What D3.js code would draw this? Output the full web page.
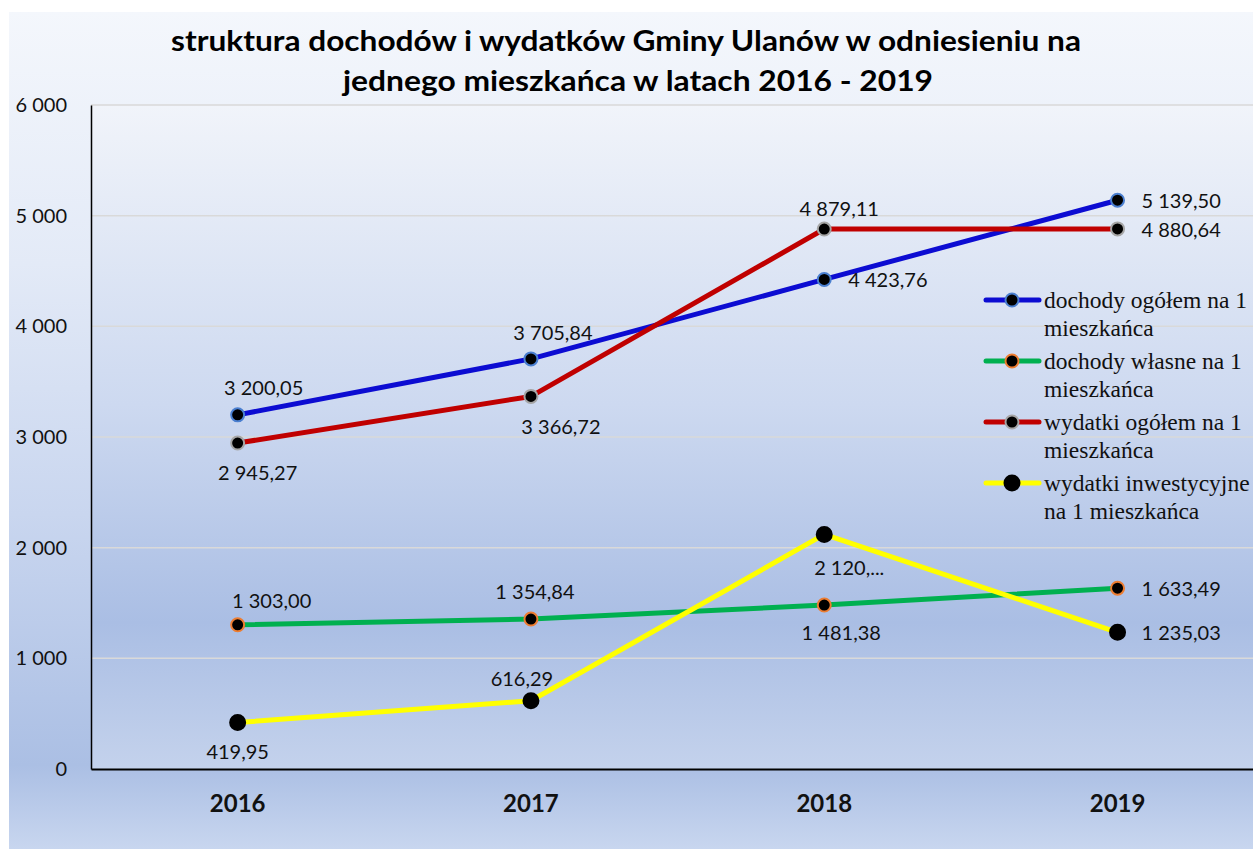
<!DOCTYPE html>
<html>
<head>
<meta charset="utf-8">
<script src="https://cdn.jsdelivr.net/npm/d3@7/dist/d3.min.js"></script>
<style>
html,body{margin:0;padding:0;background:#fff;}
svg{display:block;}
</style>
</head>
<body>
<svg id="chart" width="1253" height="849"></svg>
<script>
// ---------- data ----------
const titleLines = ["struktura dochodów i wydatków Gminy Ulanów w odniesieniu na", "jednego mieszkańca w latach 2016 - 2019"];
const years = ["2016", "2017", "2018", "2019"];
const yTicks = [0, 1000, 2000, 3000, 4000, 5000, 6000];
const seriesNames = [
  ["dochody ogółem na 1", "mieszkańca"],
  ["dochody własne na 1", "mieszkańca"],
  ["wydatki ogółem na 1", "mieszkańca"],
  ["wydatki inwestycyjne", "na 1 mieszkańca"]
];
const dochodyOgolem = [3200.05, 3705.84, 4423.76, 5139.50];
const dochodyWlasne = [1303.00, 1354.84, 1481.38, 1633.49];
const wydatkiOgolem = [2945.27, 3366.72, 4879.11, 4880.64];
const wydatkiInwestycyjne = [419.95, 616.29, 2120.00, 1235.03];
const labelOverrides = {"3-2": "2 120,..."};

// ---------- layout / style ----------
const W = 1253, H = 849;
const plot = {left: 91, right: 91 + 4 * 293.3, top: 105, bottom: 769};
const styles = [
  {line: "#0c0cd2", mStroke: "#4a7fd0", r: 6.5},
  {line: "#00b050", mStroke: "#ed7d31", r: 6.5},
  {line: "#c00000", mStroke: "#a5a5a5", r: 6.5},
  {line: "#ffff00", mStroke: "#000000", r: 7.5}
];
// label placement: [position, dx, dy]
const placements = [
  [["a", 26, -28], ["a", 22, -27], ["r"], ["r"]],
  [["a", 34, -25], ["a", 4, -28], ["b", 17, 27], ["r"]],
  [["b", 20, 29], ["b", 30, 30], ["a", 15, -21], ["r"]],
  [["b", 0, 28], ["a", -9, -23], ["b", 25, 33], ["r"]]
];
const seriesData = [dochodyOgolem, dochodyWlasne, wydatkiOgolem, wydatkiInwestycyjne];

const svg = d3.select("#chart");
const defs = svg.append("defs");

const bgGrad = defs.append("linearGradient").attr("id", "bg").attr("x1", 0).attr("y1", 0).attr("x2", 0).attr("y2", 1);
[[0, "#f4f7fc"], [0.3, "#e3eaf7"], [0.6, "#c9d6ef"], [0.9, "#abbfe4"], [1, "#c8d6ef"]]
  .forEach(([o, c]) => bgGrad.append("stop").attr("offset", o).attr("stop-color", c));

const plotGrad = defs.append("linearGradient").attr("id", "pg").attr("x1", 0).attr("y1", 0).attr("x2", 0).attr("y2", 1);
[[0, "#f1f4fa"], [0.45, "#cdd9f0"], [0.78, "#aabee4"], [1, "#c4d2ec"]]
  .forEach(([o, c]) => plotGrad.append("stop").attr("offset", o).attr("stop-color", c));

svg.append("rect").attr("x", 9).attr("y", 12).attr("width", W - 9).attr("height", H - 12).attr("fill", "url(#bg)");
svg.append("rect").attr("x", plot.left).attr("y", plot.top)
  .attr("width", plot.right - plot.left).attr("height", plot.bottom - plot.top).attr("fill", "url(#pg)");

// scales
const x = d3.scaleBand().domain(years).range([plot.left, plot.right]);
const y = d3.scaleLinear().domain([0, 6000]).range([plot.bottom, plot.top]);
const cx = d => x(d) + x.bandwidth() / 2;

const loc = d3.formatLocale({decimal: ",", thousands: " ", grouping: [3], currency: ["", ""]});
const fmtVal = loc.format(",.2f");
const fmtTick = loc.format(",d");

// gridlines
svg.append("g").selectAll("line").data(yTicks.filter(t => t > 0)).join("line")
  .attr("x1", plot.left).attr("x2", plot.right)
  .attr("y1", d => y(d)).attr("y2", d => y(d))
  .attr("stroke", "#d9d9d9").attr("stroke-width", 1.5);

// y axis
const yAxis = d3.axisLeft(y).tickValues(yTicks).tickFormat(fmtTick).tickSize(0).tickPadding(24);
const gy = svg.append("g").attr("transform", `translate(${plot.left},0)`).call(yAxis);
gy.select(".domain").attr("stroke", "#000").attr("stroke-width", 1.5);
gy.selectAll("text").attr("font-family", "Lato, 'Open Sans', sans-serif").attr("font-size", 20).attr("fill", "#111");

// x axis
const xAxis = d3.axisBottom(x).tickSize(0).tickPadding(26);
const gx = svg.append("g").attr("transform", `translate(0,${plot.bottom})`).call(xAxis);
gx.select(".domain").attr("stroke", "#000").attr("stroke-width", 2);
gx.selectAll("text").attr("font-family", "Lato, 'Open Sans', sans-serif").attr("font-weight", "bold")
  .attr("font-size", 24).attr("fill", "#111");

// title
const title = svg.append("g");
const titleW = [910, 590];
titleLines.forEach((t, i) => {
  title.append("text").attr("x", 626 + (i === 1 ? 12 : 0)).attr("y", 51 + i * 40)
    .attr("text-anchor", "middle")
    .attr("font-family", "Lato, 'Open Sans', sans-serif").attr("font-weight", "bold")
    .attr("font-size", 29).attr("fill", "#000")
    .attr("textLength", titleW[i]).attr("lengthAdjust", "spacingAndGlyphs")
    .text(t);
});

// lines
const line = d3.line().x((d, i) => cx(years[i])).y(d => y(d));
seriesData.forEach((vals, s) => {
  svg.append("path").datum(vals).attr("d", line)
    .attr("fill", "none").attr("stroke", styles[s].line).attr("stroke-width", 5)
    .attr("stroke-linejoin", "round").attr("stroke-linecap", "round");
  svg.append("g").selectAll("circle").data(vals).join("circle")
    .attr("cx", (d, i) => cx(years[i])).attr("cy", d => y(d))
    .attr("r", styles[s].r).attr("fill", "#000")
    .attr("stroke", styles[s].mStroke).attr("stroke-width", 2);
});

// data labels
seriesData.forEach((vals, s) => {
  vals.forEach((v, i) => {
    const p = placements[s][i];
    const px = cx(years[i]), py = y(v);
    const txt = labelOverrides[`${s}-${i}`] || fmtVal(v);
    const t = svg.append("text")
      .attr("font-family", "Lato, 'Open Sans', sans-serif").attr("font-size", 20).attr("fill", "#111")
      .attr("dominant-baseline", "central").text(txt);
    if (p[0] === "r") {
      t.attr("x", px + 24).attr("y", py).attr("text-anchor", "start");
    } else {
      t.attr("x", px + p[1]).attr("y", py + p[2]).attr("text-anchor", "middle");
    }
  });
});

// legend
const lg = svg.append("g");
seriesNames.forEach((name, s) => {
  const ly = 300 + s * 61;
  lg.append("line").attr("x1", 986).attr("x2", 1039).attr("y1", ly).attr("y2", ly)
    .attr("stroke", styles[s].line).attr("stroke-width", 5).attr("stroke-linecap", "round");
  lg.append("circle").attr("cx", 1012).attr("cy", ly).attr("r", styles[s].r)
    .attr("fill", "#000").attr("stroke", styles[s].mStroke).attr("stroke-width", 2);
  name.forEach((ln, k) => {
    lg.append("text").attr("x", 1044).attr("y", ly + k * 27.5)
      .attr("dominant-baseline", "central")
      .attr("font-family", "'Liberation Serif', 'Times New Roman', serif").attr("font-size", 23.5)
      .attr("fill", "#111").text(ln);
  });
});
</script>
</body>
</html>
